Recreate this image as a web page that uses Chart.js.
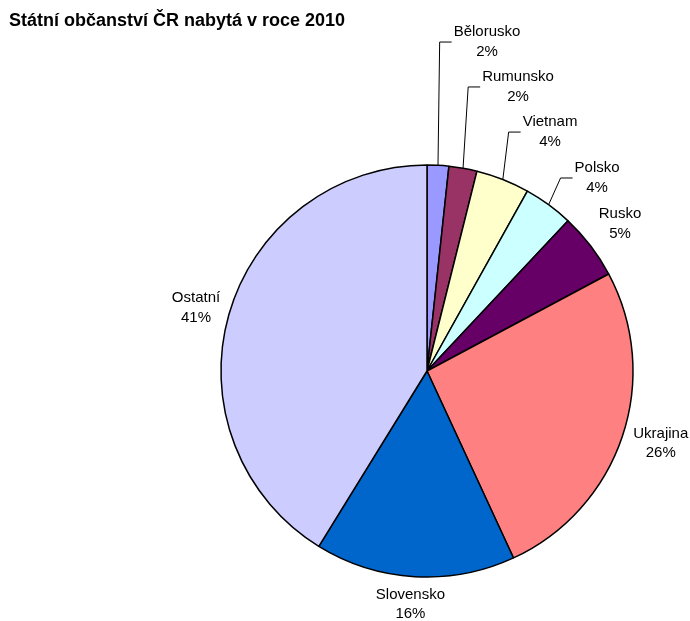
<!DOCTYPE html>
<html>
<head>
<meta charset="utf-8">
<script src="https://cdn.jsdelivr.net/npm/chart.js@4.4.0/dist/chart.umd.min.js"></script>
<style>
    html, body { margin: 0; padding: 0; background: #fff; }
    #wrap { width: 690px; height: 621px; position: relative; }
</style>
</head>
<body>
<div id="wrap"><canvas id="pie"></canvas></div>
<script>
(function () {
    'use strict';

    // ── Data ────────────────────────────────────────────────────────────────
    const TITLE     = 'Státní občanství ČR nabytá v roce 2010';
    const countries = ['Bělorusko', 'Rumunsko', 'Vietnam', 'Polsko', 'Rusko', 'Ukrajina', 'Slovensko', 'Ostatní'];
    const shares    = [1.7, 2.2, 4.2, 3.9, 5.2, 25.9, 15.7, 41.2];

    // ── Look ────────────────────────────────────────────────────────────────
    const COLORS = ['#9999FF', '#993366', '#FFFFCC', '#CCFFFF', '#660066', '#FF8080', '#0066CC', '#CCCCFF'];
    const FONT   = "'Liberation Sans', Arial, sans-serif";

    // label nudges (px) away from the default outside position; big ones get a leader line
    const labelShift = [[46.6, -91.8], [46.6, -50.2], [32.7, -18.1], [28.1, -1.3], [3, -2.6], [1, -3], [-1.5, -3.5], [2, 1.5]];

    const total = shares.reduce((a, b) => a + b, 0);
    const pct = shares.map(v => Math.round(v / total * 100) + '%');

    const labelPlugin = {
        id: 'outsideLabels',
        afterDatasetsDraw(chart) {
            const ctx = chart.ctx;
            const meta = chart.getDatasetMeta(0);

            ctx.save();
            // title
            ctx.fillStyle = '#000';
            ctx.font = 'bold 18px ' + FONT;
            ctx.textAlign = 'left';
            ctx.textBaseline = 'alphabetic';
            ctx.fillText(TITLE, 9, 25.5);

            ctx.font = '15px ' + FONT;
            ctx.textBaseline = 'middle';
            ctx.textAlign = 'center';
            ctx.strokeStyle = '#000';
            ctx.lineWidth = 1;

            meta.data.forEach((arc, i) => {
                const mid = (arc.startAngle + arc.endAngle) / 2;
                const cos = Math.cos(mid), sin = Math.sin(mid);
                const r = arc.outerRadius;
                const w = Math.max(ctx.measureText(countries[i]).width, ctx.measureText(pct[i]).width);
                const h = 39;
                const gap = 12;
                const cx = arc.x + cos * (r + gap) + cos * w / 2 + labelShift[i][0];
                const cy = arc.y + sin * (r + gap) + sin * h / 2 + labelShift[i][1];

                if (Math.hypot(labelShift[i][0], labelShift[i][1]) > 15) {
                    const left = cx - w / 2;
                    ctx.beginPath();
                    ctx.moveTo(arc.x + cos * r, arc.y + sin * r);
                    ctx.lineTo(left - 14, cy);
                    ctx.lineTo(left - 2, cy);
                    ctx.stroke();
                }

                ctx.fillText(countries[i], cx, cy - 9.75);
                ctx.fillText(pct[i], cx, cy + 9.75);
            });
            ctx.restore();
        }
    };

    new Chart(document.getElementById('pie'), {
        type: 'pie',
        data: {
            labels: countries,
            datasets: [{
                data:            shares,
                backgroundColor: COLORS,
                borderColor:     '#000',
                borderWidth:     1.5,
                radius:          206
            }]
        },
        options: {
            responsive: true,
            maintainAspectRatio: false,
            animation: false,
            layout: { padding: { left: 221, right: 57, top: 165, bottom: 44 } },
            plugins: {
                legend:  { display: false },
                tooltip: { enabled: false },
                title:   { display: false }
            }
        },
        plugins: [labelPlugin]
    });
})();
</script>
</body>
</html>
